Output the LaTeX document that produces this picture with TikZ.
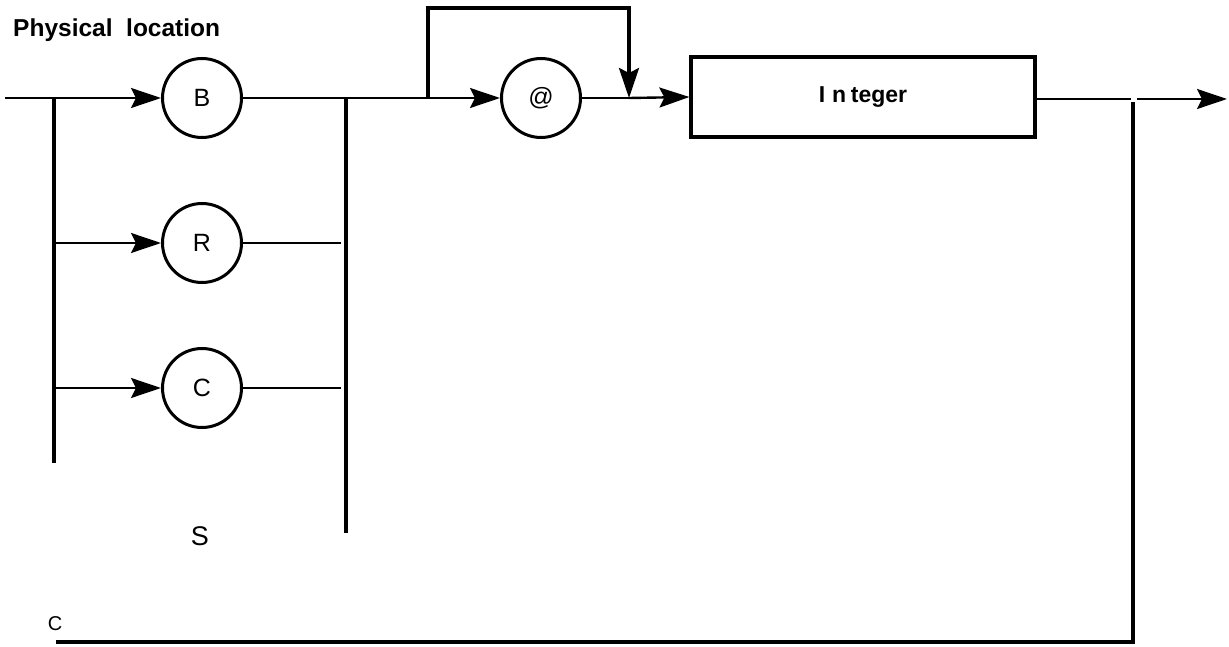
\documentclass[tikz,border=0pt]{standalone}
\usepackage{fontspec}
\setmainfont{Liberation Sans}
\usetikzlibrary{arrows.meta}
\begin{document}
\begin{tikzpicture}[x=1pt,y=-1pt,
  flow/.style={line width=2.4pt},
  rail/.style={line width=3.2pt},
  tip/.style={-{Stealth[length=30pt,width=20pt,inset=5pt]}},
  term/.style={circle,draw,line width=3pt,minimum size=79pt,inner sep=0pt,font=\fontsize{25}{27}\selectfont},
  nonterm/.style={rectangle,draw,line width=3.2pt,minimum width=344pt,minimum height=80pt,inner sep=0pt,font=\bfseries\fontsize{23}{25}\selectfont},
  lbl/.style={inner sep=0pt}]
\useasboundingbox (0,0) rectangle (1229,647);

% title
\node[lbl,anchor=base west,font=\bfseries\fontsize{24.5}{26}\selectfont] (title) at (13,37) {Physical\ \ location};

% terminals and the integer box
\node[term] (B) at (202,98) {B};
\node[term] (R) at (202,243) {R};
\node[term] (Cc) at (202,388) {C};
\node[term] (at) at (541,98) {@};
\node[nonterm] (int) at (863,97) {I\hspace{0.3em}n\hspace{0.2em}teger};

% junction points
\coordinate (in) at (5,98);
\coordinate (splitL) at (54,98);
\coordinate (splitLend) at (54,463);
\coordinate (rowR) at (54,243);
\coordinate (rowC) at (54,388);
\coordinate (endR) at (341,243);
\coordinate (endC) at (341,388);
\coordinate (joinR) at (346,98);
\coordinate (joinRend) at (346,533);
\coordinate (loopA) at (428,98);
\coordinate (loopB) at (629,98);
\coordinate (loopTop) at (629,8);
\coordinate (outA) at (1131,99);
\coordinate (outB) at (1137,99);
\coordinate (outEnd) at (1227,99);
\coordinate (backTop) at (1133,102);
\coordinate (backBot) at (1133,642);
\coordinate (backEnd) at (56,642);

% main line and branches
\draw[flow,tip] (in) -- (B.west);
\draw[rail] (splitL) -- (splitLend);
\draw[flow,tip] (rowR) -- (R.west);
\draw[flow,tip] (rowC) -- (Cc.west);
\draw[flow] (R.east) -- (endR);
\draw[flow] (Cc.east) -- (endC);
\draw[rail] (joinR) -- (joinRend);
\draw[flow] (B.east) -- (loopA);
\draw[flow,tip] (loopA) -- (at.west);
\draw[rail,tip] (loopA) |- (loopTop) -- (loopB);
\draw[flow] (at.east) -- (loopB);
\draw[flow,tip] (loopB) -- (int.west);
\draw[flow] (int.east |- outA) -- (outA);
\draw[flow,tip] (outB) -- (outEnd);
\draw[rail] (backTop) -- (backBot) -- (backEnd);

% labels
\node[lbl,font=\fontsize{27}{29}\selectfont] (S) at (200,536) {S};
\node[lbl,font=\fontsize{20}{22}\selectfont] (Clbl) at (55,624) {C};
\end{tikzpicture}
\end{document}
